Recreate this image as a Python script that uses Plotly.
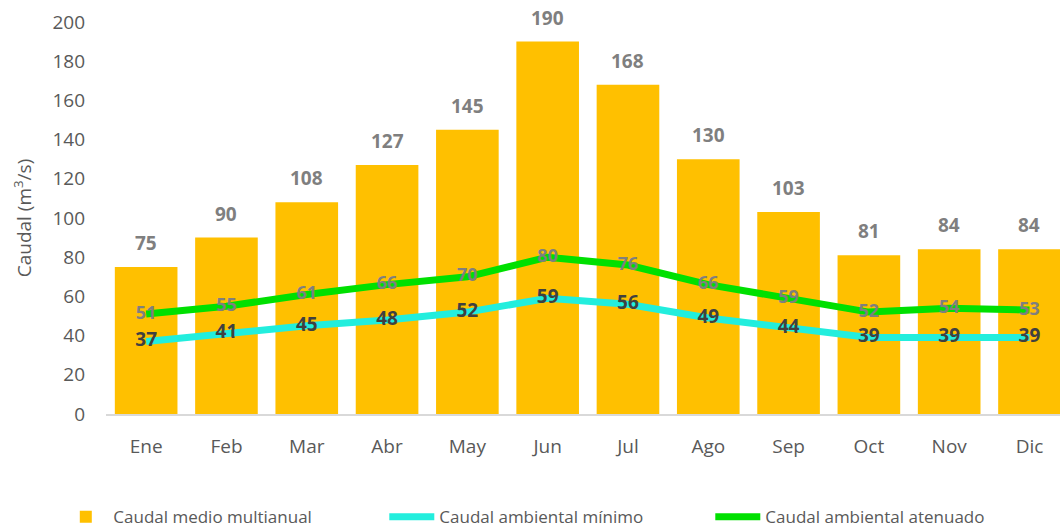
import plotly.graph_objects as go

meses = ["Ene", "Feb", "Mar", "Abr", "May", "Jun", "Jul", "Ago", "Sep", "Oct", "Nov", "Dic"]
caudal_medio = [75, 90, 108, 127, 145, 190, 168, 130, 103, 81, 84, 84]
caudal_minimo = [37, 41, 45, 48, 52, 59, 56, 49, 44, 39, 39, 39]
caudal_atenuado = [51, 55, 61, 66, 70, 80, 76, 66, 59, 52, 54, 53]
y_ticks = [0, 20, 40, 60, 80, 100, 120, 140, 160, 180, 200]

FONT = "Open Sans, Arial"

fig = go.Figure()
fig.add_trace(go.Bar(
    x=meses, y=caudal_medio, name="Caudal medio multianual",
    marker=dict(color="#FFC000", line=dict(width=0)),
))
fig.add_trace(go.Scatter(
    x=meses, y=caudal_minimo, name="Caudal ambiental mínimo",
    mode="lines+text", line=dict(color="#22EEDD", width=7),
    text=[str(v) for v in caudal_minimo], textposition="middle center",
    textfont=dict(family=FONT, size=19, color="#404040", weight="bold"),
    cliponaxis=False,
))
fig.add_trace(go.Scatter(
    x=meses, y=caudal_atenuado, name="Caudal ambiental atenuado",
    mode="lines+text", line=dict(color="#00E000", width=7),
    text=[str(v) for v in caudal_atenuado], textposition="middle center",
    textfont=dict(family=FONT, size=18, color="#7F7F7F", weight="bold"),
    cliponaxis=False,
))

for m, v in zip(meses, caudal_medio):
    fig.add_annotation(
        x=m, y=v, text=str(v), showarrow=False, yshift=24,
        font=dict(family=FONT, size=19, color="#7F7F7F", weight="bold"),
    )

fig.update_layout(
    width=1060, height=531,
    margin=dict(l=106, r=0, t=22, b=117, autoexpand=False),
    paper_bgcolor="white", plot_bgcolor="white",
    bargap=0.22,
    font=dict(family=FONT, color="#595959"),
    legend=dict(
        orientation="h", x=-0.05, y=-0.263, xanchor="left", yanchor="middle",
        font=dict(family=FONT, size=17, color="#595959"),
        itemwidth=45, traceorder="normal", entrywidthmode="pixels", entrywidth=266,
    ),
    showlegend=True,
)
fig.update_xaxes(
    range=[-0.5, 11.38], showgrid=False, showline=True, linecolor="#D9D9D9", linewidth=1.5,
    ticks="", tickfont=dict(family=FONT, size=19, color="#595959"),
    ticklabelstandoff=14, automargin=False,
)
fig.update_yaxes(
    range=[0, 200], tickvals=y_ticks, showgrid=False, zeroline=False, showline=False,
    tickfont=dict(family=FONT, size=19, color="#595959"),
    ticklabelstandoff=20, automargin=False,
    title=dict(text="Caudal (m<sup>3</sup>/s)", font=dict(family=FONT, size=19, color="#595959")),
)

fig.write_html(
    "out.html",
    config={"displayModeBar": False},
    post_script="document.body.style.margin='0';document.body.style.overflow='hidden';",
)
